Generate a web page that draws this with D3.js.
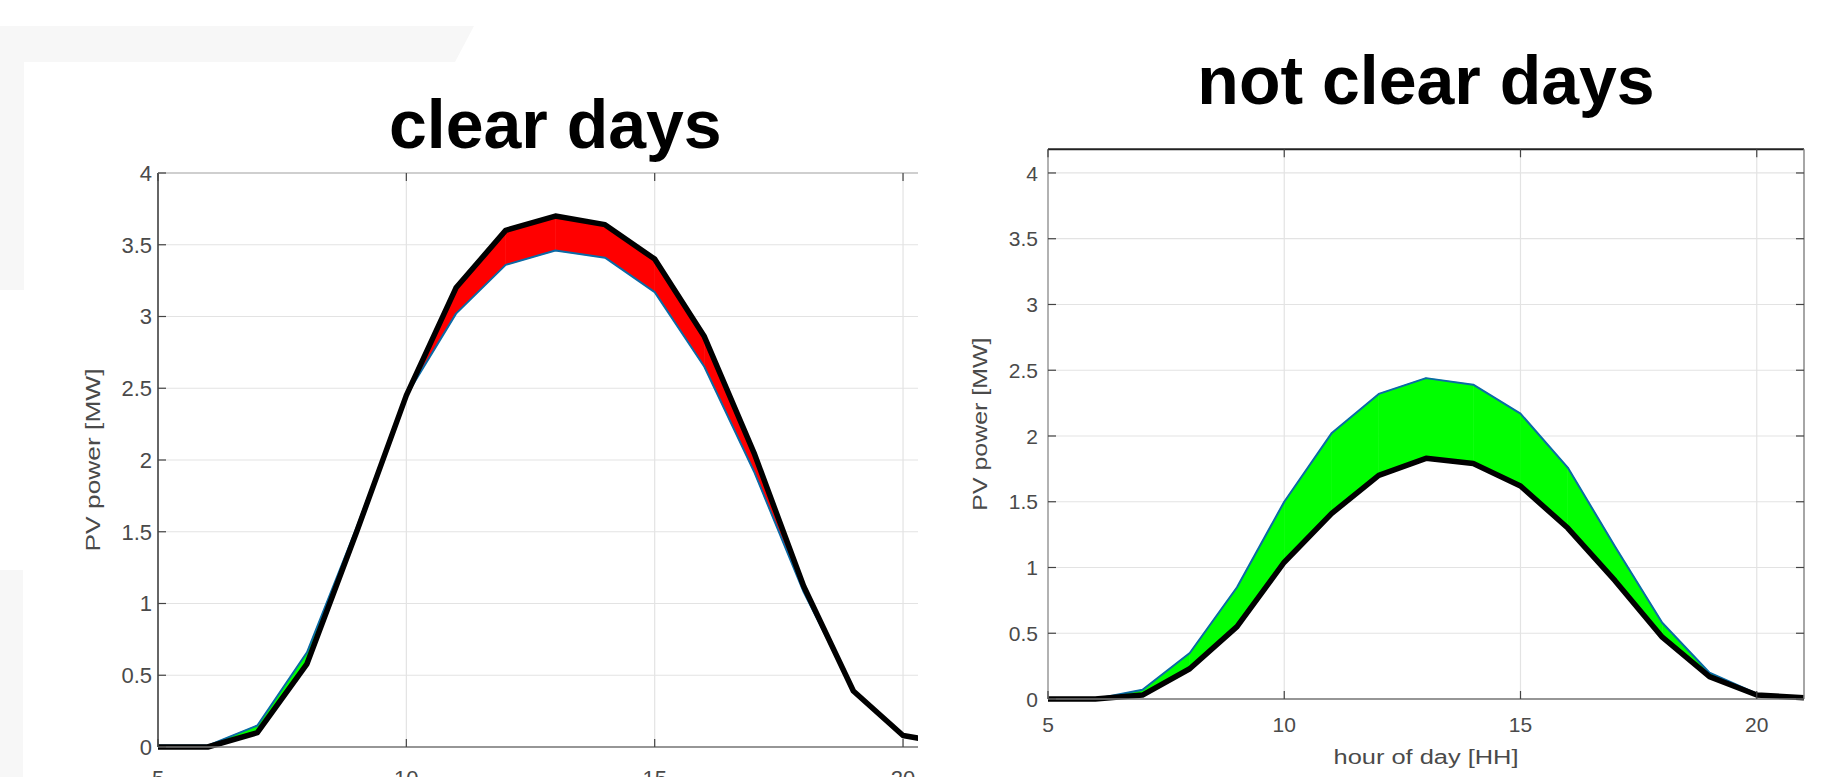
<!DOCTYPE html>
<html>
<head>
<meta charset="utf-8">
<script src="https://cdn.jsdelivr.net/npm/d3@7/dist/d3.min.js"></script>
<style>
  html, body { margin: 0; padding: 0; background: #ffffff; }
  svg { display: block; }
  text { font-family: "Liberation Sans", Arial, Helvetica, sans-serif; }
</style>
</head>
<body>
<svg id="fig" width="1822" height="777"></svg>
<script>
// Hour of day (sampled hourly)
const hours = [5, 6, 7, 8, 9, 10, 11, 12, 13, 14, 15, 16, 17, 18, 19, 20, 21];

// Clear days: measured PV power (thick black) and reference profile (thin blue), MW
const clearMeasured = [0, 0, 0.10, 0.58, 1.50, 2.45, 3.20, 3.60, 3.70, 3.64, 3.40, 2.86, 2.05, 1.12, 0.39, 0.08, 0.02];
const clearReference = [0.01, 0.01, 0.15, 0.66, 1.53, 2.45, 3.02, 3.36, 3.46, 3.41, 3.17, 2.65, 1.92, 1.08, 0.39, 0.08, 0.02];

// Not clear days
const cloudyMeasured = [0, 0, 0.03, 0.23, 0.55, 1.04, 1.41, 1.70, 1.83, 1.79, 1.62, 1.30, 0.90, 0.47, 0.17, 0.03, 0.01];
const cloudyReference = [0, 0, 0.07, 0.35, 0.85, 1.50, 2.02, 2.32, 2.44, 2.39, 2.17, 1.76, 1.16, 0.58, 0.20, 0.04, 0.01];

// Axis ticks
const xTicks = [5, 10, 15, 20];
const yTicks = [0, 0.5, 1, 1.5, 2, 2.5, 3, 3.5, 4];

const titles = ["clear days", "not clear days"];
const yLabel = "PV power [MW]";
const xLabel = "hour of day [HH]";

const svg = d3.select("#fig");

// light slide backdrop behind the left figure
const bg = svg.append("g").attr("fill", "#f7f7f7");
bg.append("path").attr("d", "M0,26 L474,26 L455,62 L24,62 L24,290 L0,290 Z");
bg.append("rect").attr("x", 0).attr("y", 570).attr("width", 23).attr("height", 207);

// Split the band between two series into pieces coloured by which one is larger
function bandPieces(h, a, b) {
  const out = [];
  for (let i = 0; i < h.length - 1; i++) {
    const d0 = a[i] - b[i], d1 = a[i + 1] - b[i + 1];
    if (d0 * d1 < 0) {
      const t = d0 / (d0 - d1);
      const hc = h[i] + t * (h[i + 1] - h[i]);
      const vc = a[i] + t * (a[i + 1] - a[i]);
      out.push({ sign: Math.sign(d0), pts: [[h[i], a[i]], [hc, vc], [h[i], b[i]]] });
      out.push({ sign: Math.sign(d1), pts: [[hc, vc], [h[i + 1], a[i + 1]], [h[i + 1], b[i + 1]]] });
    } else {
      out.push({ sign: Math.sign(d0 + d1), pts: [[h[i], a[i]], [h[i + 1], a[i + 1]], [h[i + 1], b[i + 1]], [h[i], b[i]]] });
    }
  }
  return out;
}

function panel(cfg) {
  const x = d3.scaleLinear().domain([5, 21]).range(cfg.xr);
  const y = d3.scaleLinear().domain(cfg.yd).range(cfg.yr);
  const id = "clip" + cfg.key;
  svg.append("clipPath").attr("id", id).append("rect")
    .attr("x", 0).attr("y", 0).attr("width", cfg.clipRight).attr("height", 777);
  const g = svg.append("g").attr("clip-path", `url(#${id})`);

  const top = y(cfg.yd[1]), bottom = y(0), left = x(5), right = x(21);

  // white axes background
  g.append("rect").attr("x", left).attr("y", top).attr("width", right - left).attr("height", bottom - top).attr("fill", "#fff");

  // grid
  g.append("g").selectAll("line").data(yTicks).join("line")
    .attr("x1", left).attr("x2", right).attr("y1", d => y(d)).attr("y2", d => y(d))
    .attr("stroke", "#e3e3e3").attr("stroke-width", 1.2);
  g.append("g").selectAll("line").data(xTicks.filter(d => d > 5)).join("line")
    .attr("x1", d => x(d)).attr("x2", d => x(d)).attr("y1", top).attr("y2", bottom)
    .attr("stroke", "#e3e3e3").attr("stroke-width", 1.2);

  // difference band
  const poly = d3.line().x(d => x(d[0])).y(d => y(d[1]));
  g.append("g").selectAll("path").data(bandPieces(hours, cfg.measured, cfg.reference)).join("path")
    .attr("d", d => poly(d.pts) + "Z")
    .attr("fill", d => d.sign > 0 ? "#ff0000" : "#00ff00")
    .attr("stroke", d => d.sign > 0 ? "#ff0000" : "#00ff00")
    .attr("stroke-width", 0.6);

  const line = d3.line().x((d, i) => x(hours[i])).y(d => y(d));
  g.append("path").datum(cfg.reference).attr("d", line)
    .attr("fill", "none").attr("stroke", "#0a6aa6").attr("stroke-width", 2).attr("stroke-linejoin", "round");
  g.append("path").datum(cfg.measured).attr("d", line)
    .attr("fill", "none").attr("stroke", "#000").attr("stroke-width", 5.5).attr("stroke-linejoin", "round");

  // axes box
  g.append("line").attr("x1", left).attr("x2", right).attr("y1", bottom).attr("y2", bottom).attr("stroke", "#777").attr("stroke-width", 1.5);
  g.append("line").attr("x1", left).attr("x2", left).attr("y1", top).attr("y2", bottom).attr("stroke", cfg.leftAxis).attr("stroke-width", 1.5);
  g.append("line").attr("x1", left).attr("x2", right).attr("y1", top).attr("y2", top).attr("stroke", cfg.topAxis).attr("stroke-width", 2);
  g.append("line").attr("x1", right).attr("x2", right).attr("y1", top).attr("y2", bottom).attr("stroke", "#888").attr("stroke-width", 1.5);

  // inward ticks
  const tl = 8;
  g.append("g").selectAll("line").data(yTicks).join("line")
    .attr("x1", left).attr("x2", left + tl).attr("y1", d => y(d)).attr("y2", d => y(d))
    .attr("stroke", "#444").attr("stroke-width", 1.2);
  g.append("g").selectAll("line").data(yTicks).join("line")
    .attr("x1", right).attr("x2", right - tl).attr("y1", d => y(d)).attr("y2", d => y(d))
    .attr("stroke", "#444").attr("stroke-width", 1.2);
  g.append("g").selectAll("line").data(xTicks).join("line")
    .attr("x1", d => x(d)).attr("x2", d => x(d)).attr("y1", bottom).attr("y2", bottom - tl)
    .attr("stroke", "#444").attr("stroke-width", 1.2);
  g.append("g").selectAll("line").data(xTicks).join("line")
    .attr("x1", d => x(d)).attr("x2", d => x(d)).attr("y1", top).attr("y2", top + tl)
    .attr("stroke", "#444").attr("stroke-width", 1.2);

  // tick labels
  g.append("g").selectAll("text").data(yTicks).join("text")
    .attr("x", left - cfg.yLabGap).attr("y", d => y(d)).attr("dy", "0.36em")
    .attr("text-anchor", "end").attr("font-size", cfg.tickFont).attr("fill", "#4a4a4a")
    .text(d => d3.format("~g")(d));
  g.append("g").selectAll("text").data(xTicks).join("text")
    .attr("x", d => x(d)).attr("y", cfg.xTickBase)
    .attr("text-anchor", "middle").attr("font-size", cfg.tickFont).attr("fill", "#4a4a4a")
    .text(d => d);

  // axis labels
  svg.append("text")
    .attr("transform", `translate(${cfg.yLabX},${y((cfg.yd[1]) / 2)}) rotate(-90)`)
    .attr("text-anchor", "middle").attr("font-size", 20).attr("fill", "#4a4a4a")
    .attr("textLength", cfg.yLabLen).attr("lengthAdjust", "spacingAndGlyphs")
    .text(yLabel);
  if (cfg.showX) {
    svg.append("text").attr("x", (left + right) / 2).attr("y", 764)
      .attr("text-anchor", "middle").attr("font-size", 20).attr("fill", "#4a4a4a")
      .attr("textLength", 185).attr("lengthAdjust", "spacingAndGlyphs")
      .text(xLabel);
  }
  // title
  svg.append("text").attr("x", (left + right) / 2).attr("y", cfg.titleBase)
    .attr("text-anchor", "middle").attr("font-size", 68).attr("font-weight", "bold").attr("fill", "#000")
    .text(cfg.title);
}

panel({
  key: "L", title: titles[0], measured: clearMeasured, reference: clearReference,
  xr: [158, 952.7], yd: [0, 4], yr: [747, 173], clipRight: 918,
  leftAxis: "#333", topAxis: "#cfcfcf", tickFont: 22, yLabGap: 6, xTickBase: 786,
  yLabX: 100, yLabLen: 183, titleBase: 148, showX: false
});
panel({
  key: "R", title: titles[1], measured: cloudyMeasured, reference: cloudyReference,
  xr: [1048, 1804], yd: [0, 4.18], yr: [699, 149.3], clipRight: 1822,
  leftAxis: "#999", topAxis: "#222", tickFont: 21, yLabGap: 10, xTickBase: 732,
  yLabX: 987, yLabLen: 173, titleBase: 104, showX: true
});
</script>
</body>
</html>
